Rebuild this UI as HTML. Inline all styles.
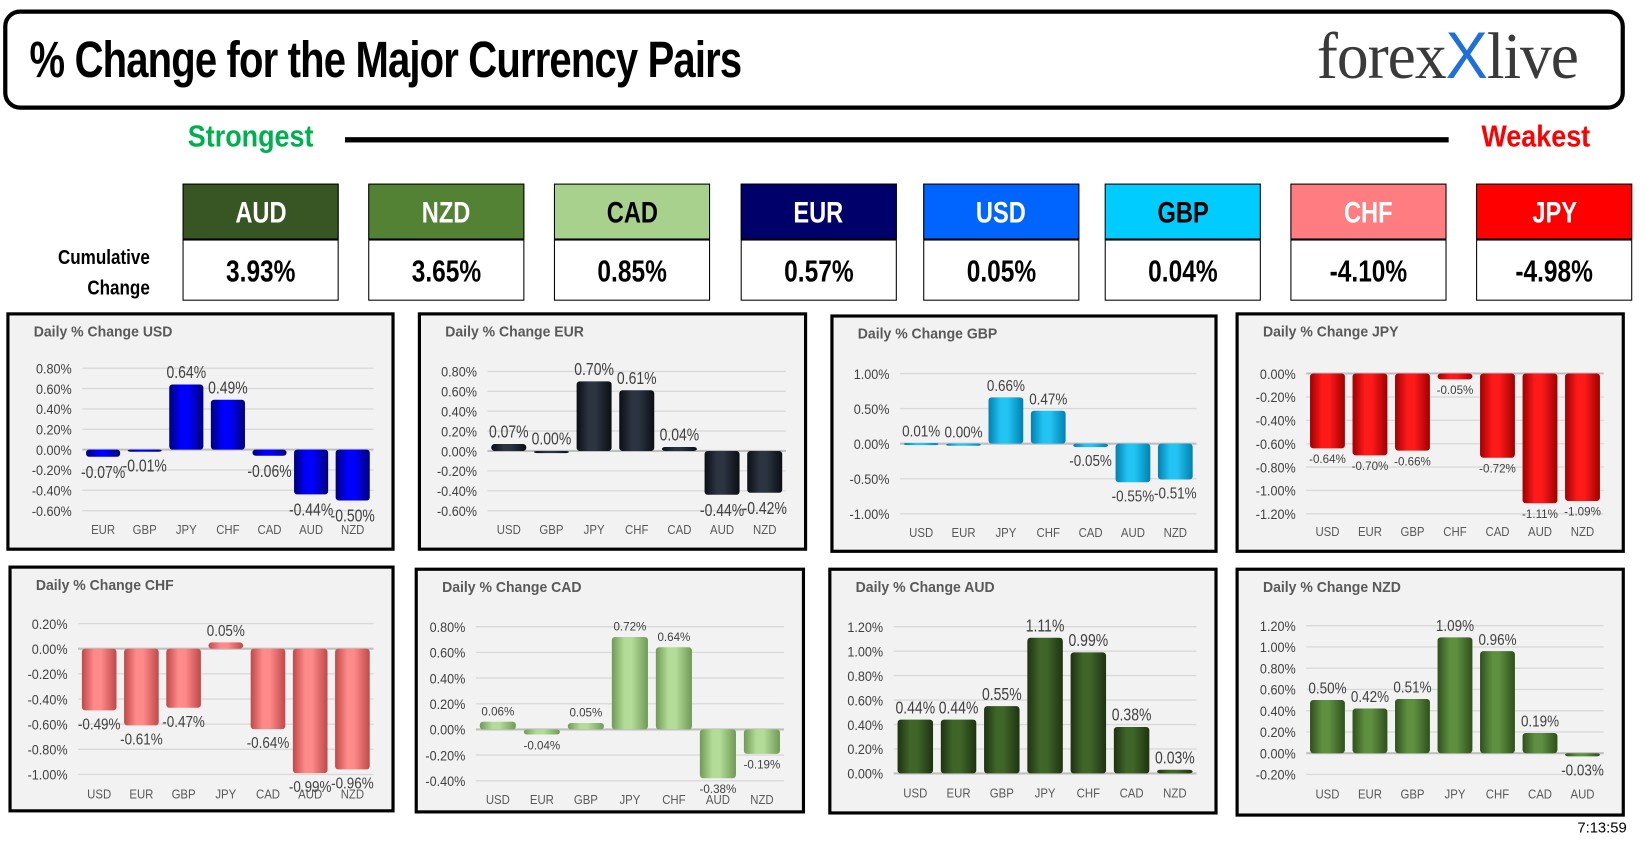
<!DOCTYPE html>
<html><head><meta charset="utf-8">
<style>
body{margin:0;background:#fff;width:1646px;height:845px;overflow:hidden}
#s{position:absolute;left:0;top:0;width:1560px;height:801px;transform:scale(1.0551);transform-origin:0 0;font-family:"Liberation Sans",sans-serif}
.abs{position:absolute}
.nar{font-family:"Liberation Sans Narrow","Liberation Sans",sans-serif;font-weight:bold}
.sq{display:inline-block;transform:scaleX(0.8)}
.hdr{position:absolute;top:174px;width:148px;height:53px;border:1px solid #000;box-sizing:border-box;text-align:center;line-height:53px;font-size:28px}
.val{position:absolute;top:227px;width:148px;height:58px;border:1px solid #000;box-sizing:border-box;text-align:center;line-height:60px;font-size:29px;background:#fff}
.panel{position:absolute;border:3px solid #000;background:#f2f2f2;box-sizing:border-box}
</style></head><body>
<div id="s">
<div class="abs" style="left:3px;top:9px;width:1537px;height:95px;border:4px solid #000;border-radius:16px;box-sizing:border-box"></div>
<div class="abs nar" style="left:28px;top:30px;font-size:48px;letter-spacing:-1px;white-space:nowrap;transform:scaleX(0.79);transform-origin:0 0">% Change for the Major Currency Pairs</div>
<div class="abs" style="left:1248px;top:18px;font-family:'Liberation Serif',serif;font-size:62px;color:#3a3a3a;letter-spacing:-1px;white-space:nowrap;transform:scaleX(0.97);transform-origin:0 0">forex<span style="color:#1e6fd9;font-family:'Liberation Sans',sans-serif">X</span>live</div>
<div class="abs nar" style="left:178px;top:114px;font-size:29px;color:#00b050;transform:scaleX(0.88);transform-origin:0 0">Strongest</div>
<div class="abs" style="left:327px;top:130px;width:1046px;height:5px;background:#000"></div>
<div class="abs nar" style="left:1404px;top:114px;font-size:29px;color:#ff0000;transform:scaleX(0.88);transform-origin:0 0">Weakest</div>
<div class="abs nar" style="left:20px;top:230px;width:122px;text-align:right;font-size:19px;line-height:29px;transform:scaleX(0.85);transform-origin:100% 0">Cumulative<br>Change</div>
<div id="boxes"></div>
<div id="charts"></div>
<div class="abs" style="left:1495px;top:776px;font-size:14px">7:13:59</div>
</div>
<script>
const boxCur=["AUD","NZD","CAD","EUR","USD","GBP","CHF","JPY"];
const boxVal=["3.93%","3.65%","0.85%","0.57%","0.05%","0.04%","-4.10%","-4.98%"];
const boxBg=["#375623","#548235","#a9d18e","#00006b","#0064ff","#00ccff","#ff7c80","#ff0000"];
const boxFg=["#fff","#fff","#000","#fff","#fff","#000","#fff","#fff"];
const boxX=[173,349,525,702,875,1047,1223,1399];
const bx=document.getElementById('boxes');
boxCur.forEach((c,i)=>{
 const h=document.createElement('div');h.className='hdr nar';
 
 
 h.style.left=boxX[i]+'px';h.style.background=boxBg[i];h.style.color=boxFg[i];
 h.innerHTML='<span class="sq">'+c+'</span>';bx.appendChild(h);
 const v=document.createElement('div');v.className='val nar';
 
 
 v.style.left=boxX[i]+'px';v.innerHTML='<span class="sq">'+boxVal[i]+'</span>';bx.appendChild(v);
});

const usdCats=["EUR","GBP","JPY","CHF","CAD","AUD","NZD"];
const usdVals=[-0.07,-0.01,0.64,0.49,-0.06,-0.44,-0.50];
const usdTicks=[0.8,0.6,0.4,0.2,0,-0.2,-0.4,-0.6];
const eurCats=["USD","GBP","JPY","CHF","CAD","AUD","NZD"];
const eurVals=[0.07,0.00,0.70,0.61,0.04,-0.44,-0.42];
const eurTicks=[0.8,0.6,0.4,0.2,0,-0.2,-0.4,-0.6];
const gbpCats=["USD","EUR","JPY","CHF","CAD","AUD","NZD"];
const gbpVals=[0.01,0.00,0.66,0.47,-0.05,-0.55,-0.51];
const gbpTicks=[1.0,0.5,0,-0.5,-1.0];
const jpyCats=["USD","EUR","GBP","CHF","CAD","AUD","NZD"];
const jpyVals=[-0.64,-0.70,-0.66,-0.05,-0.72,-1.11,-1.09];
const jpyTicks=[0,-0.2,-0.4,-0.6,-0.8,-1.0,-1.2];
const chfCats=["USD","EUR","GBP","JPY","CAD","AUD","NZD"];
const chfVals=[-0.49,-0.61,-0.47,0.05,-0.64,-0.99,-0.96];
const chfTicks=[0.2,0,-0.2,-0.4,-0.6,-0.8,-1.0];
const cadCats=["USD","EUR","GBP","JPY","CHF","AUD","NZD"];
const cadVals=[0.06,-0.04,0.05,0.72,0.64,-0.38,-0.19];
const cadTicks=[0.8,0.6,0.4,0.2,0,-0.2,-0.4];
const audCats=["USD","EUR","GBP","JPY","CHF","CAD","NZD"];
const audVals=[0.44,0.44,0.55,1.11,0.99,0.38,0.03];
const audTicks=[1.2,1.0,0.8,0.6,0.4,0.2,0];
const nzdCats=["USD","EUR","GBP","JPY","CHF","CAD","AUD"];
const nzdVals=[0.50,0.42,0.51,1.09,0.96,0.19,-0.03];
const nzdTicks=[1.2,1.0,0.8,0.6,0.4,0.2,0,-0.2];

const charts=[
 {n:"usd",cats:usdCats,vals:usdVals,ticks:usdTicks,x:6,y:296,w:368,h:226,top:53,bot:188,cy:205,yl:62,col:"#0000ff",dk:"#00007a",fs:17,sx:0.78},
 {n:"eur",cats:eurCats,vals:eurVals,ticks:eurTicks,x:396,y:296,w:369,h:226,top:56,bot:188,cy:205,yl:56,col:"#2c3442",dk:"#0b0e14",fs:17,sx:0.78},
 {n:"gbp",cats:gbpCats,vals:gbpVals,ticks:gbpTicks,x:787,y:298,w:367,h:226,top:56,bot:189,cy:206,yl:56,col:"#22c4f4",dk:"#0080b0",fs:15,sx:0.85},
 {n:"jpy",cats:jpyCats,vals:jpyVals,ticks:jpyTicks,x:1171,y:296,w:369,h:228,top:58,bot:191,cy:207,yl:57,col:"#ff1a1a",dk:"#a00000",fs:11,sx:1},
 {n:"chf",cats:chfCats,vals:chfVals,ticks:chfTicks,x:8,y:536,w:366,h:234,top:55,bot:198,cy:216,yl:56,col:"#ff8a8a",dk:"#c04848",fs:15,sx:0.85},
 {n:"cad",cats:cadCats,vals:cadVals,ticks:cadTicks,x:393,y:538,w:370,h:233,top:56,bot:202,cy:219,yl:48,col:"#b3dc98",dk:"#6f9a55",fs:11,sx:1},
 {n:"aud",cats:audCats,vals:audVals,ticks:audTicks,x:785,y:538,w:369,h:234,top:56,bot:195,cy:213,yl:52,col:"#3f6628",dk:"#1e3311",fs:17,sx:0.78},
 {n:"nzd",cats:nzdCats,vals:nzdVals,ticks:nzdTicks,x:1171,y:538,w:369,h:236,top:55,bot:196,cy:214,yl:57,col:"#5e9040",dk:"#2f4f1c",fs:15,sx:0.85}
];
const NS="http://www.w3.org/2000/svg";
const ch=document.getElementById('charts');
function mk(t,a){const e=document.createElementNS(NS,t);for(const k in a)e.setAttribute(k,a[k]);return e;}
function txt(x,y,s,sx,attrs){const e=mk('text',Object.assign({x:0,y:0,transform:`translate(${x},${y}) scale(${sx},1)`},attrs));e.textContent=s;return e;}
charts.forEach(c=>{
 const p=document.createElement('div');p.className='panel';
 
 
 p.style.left=c.x+'px';p.style.top=c.y+'px';p.style.width=c.w+'px';p.style.height=c.h+'px';
 const svg=mk('svg',{width:c.w-6,height:c.h-6});svg.style.position='absolute';svg.style.left='0';svg.style.top='0';
 const g=mk('g',{transform:'translate(-3,-3)'});svg.appendChild(g);
 const defs=mk('defs',{});const lg=mk('linearGradient',{id:'g'+c.n,x1:0,x2:1,y1:0,y2:0});
 [[0,c.dk],[0.35,c.col],[0.55,c.col],[1,c.dk]].forEach(s=>{lg.appendChild(mk('stop',{offset:s[0],'stop-color':s[1]}));});
 defs.appendChild(lg);svg.appendChild(defs);
 const title=txt(26,23,'Daily % Change '+c.n.toUpperCase(),0.95,{'font-size':14,'font-weight':'bold',fill:'#595959'});
 
 
 g.appendChild(title);
 const tmax=Math.max(...c.ticks),tmin=Math.min(...c.ticks);
 const ys=v=>c.top+(tmax-v)/(tmax-tmin)*(c.bot-c.top);
 const pl=c.yl+10,pr=c.w-20;
 c.ticks.forEach(t=>{
  const y=ys(t);
  g.appendChild(mk('line',{x1:pl,x2:pr,y1:y,y2:y,stroke:t===0?'#bfbfbf':'#d9d9d9','stroke-width':t===0?2:1.3}));
  const tx=txt(c.yl,y+5,t.toFixed(2)+'%',0.92,{'text-anchor':'end','font-size':13,fill:'#404040'});
  
  
  g.appendChild(tx);
 });
 const n=c.cats.length,pitch=(pr-pl)/n,bw=pitch*0.82,y0=ys(0);
 c.cats.forEach((cat,i)=>{
  const cx=pl+pitch*(i+0.5),v=c.vals[i],yv=ys(v);
  const top=Math.min(y0,yv),hh=Math.max(Math.abs(yv-y0),2);
  const r=mk('rect',{x:cx-bw/2,y:top,width:bw,height:hh,fill:'url(#g'+c.n+')',rx:3});
  
  
  g.appendChild(r);
  const lab=txt(cx,v>=0?yv-6:yv+c.fs+3,v.toFixed(2)+'%',c.sx,{'text-anchor':'middle','font-size':c.fs,fill:'#404040'});
  
  
  g.appendChild(lab);
  const cl=txt(cx,c.cy+5,cat,0.9,{'text-anchor':'middle','font-size':12,fill:'#595959'});
  
  
  g.appendChild(cl);
 });
 p.appendChild(svg);ch.appendChild(p);
});
</script>
</body></html>
